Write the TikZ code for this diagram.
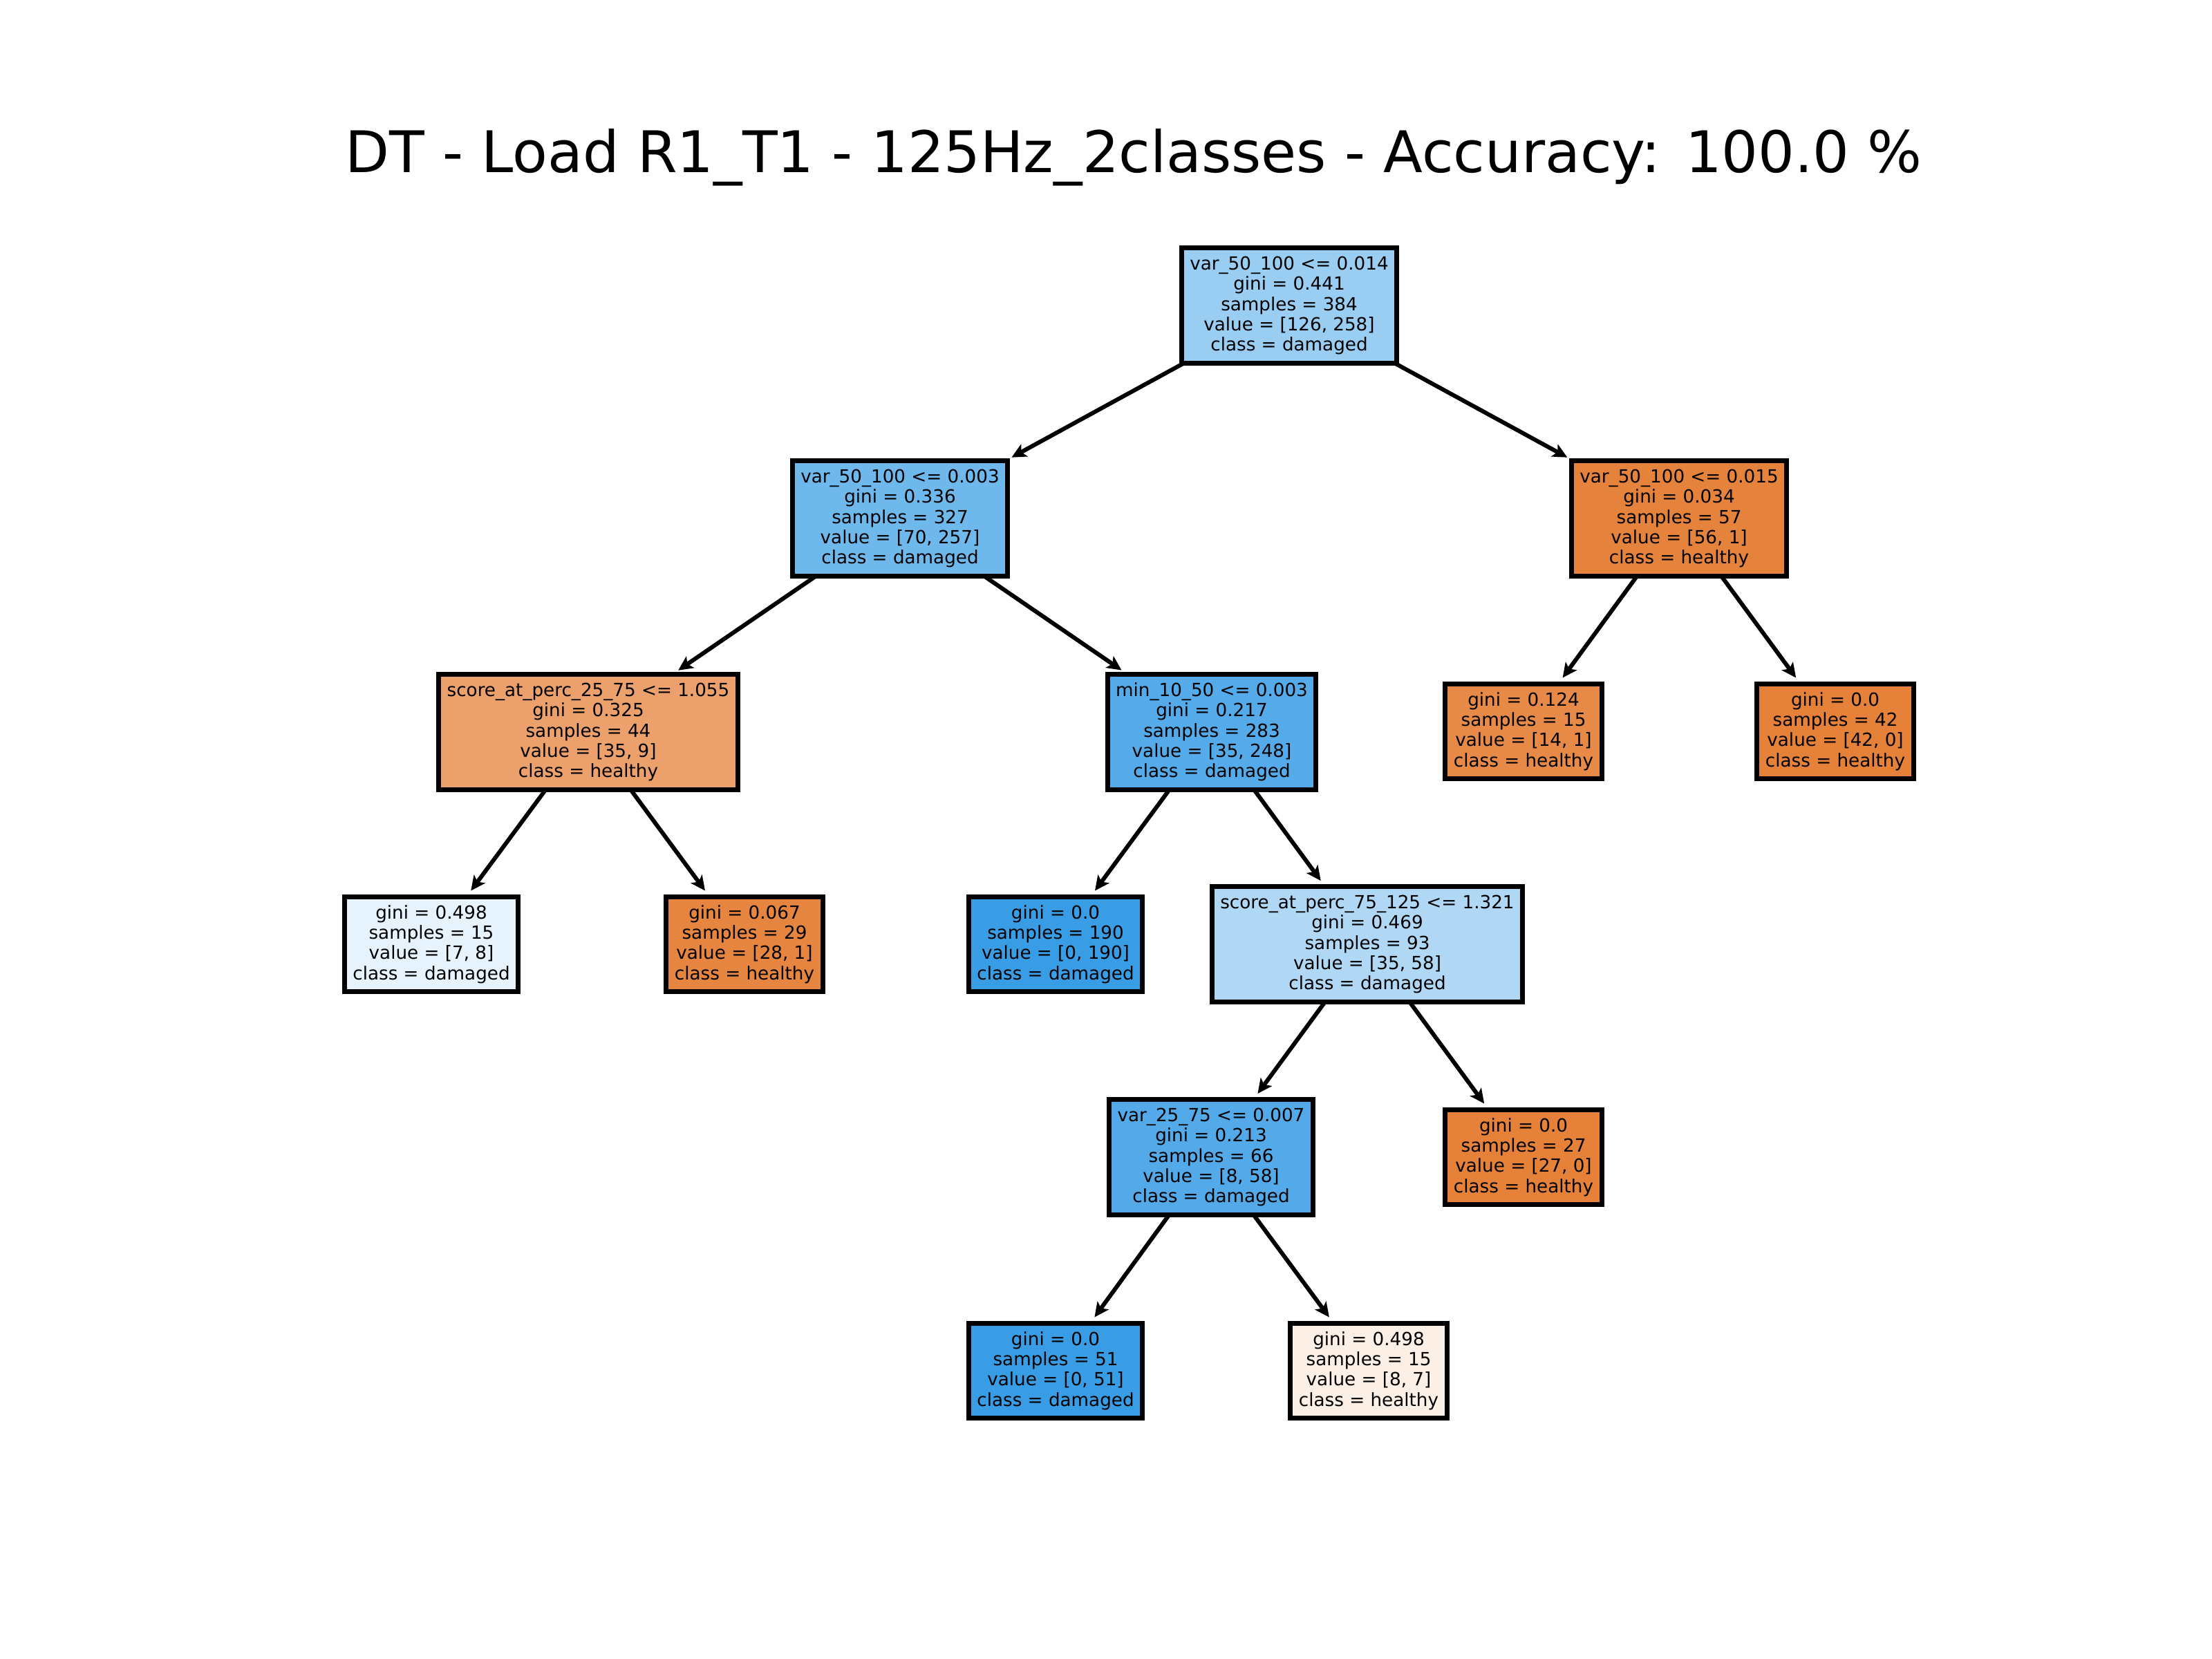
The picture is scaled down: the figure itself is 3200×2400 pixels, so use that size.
\documentclass[tikz,border=0pt]{standalone}
\usepackage{fontspec}
\setmainfont{DejaVu Sans}
\newfontfamily\dejavu{DejaVu Sans}
\usetikzlibrary{arrows.meta}
\definecolor{cRoot}{RGB}{154,205,242}
\definecolor{cNa}{RGB}{111,184,236}
\definecolor{cNb}{RGB}{229,131,61}
\definecolor{cNc}{RGB}{236,161,108}
\definecolor{cNd}{RGB}{85,171,233}
\definecolor{cNe}{RGB}{231,138,71}
\definecolor{cOr}{RGB}{229,129,57}
\definecolor{cBl}{RGB}{57,157,229}
\definecolor{cLa}{RGB}{230,243,252}
\definecolor{cLb}{RGB}{230,133,64}
\definecolor{cNg}{RGB}{176,216,245}
\definecolor{cNh}{RGB}{84,170,233}
\definecolor{cLf}{RGB}{252,239,230}
\tikzset{
  treenode/.style={draw=black, line width=0.07cm, align=center, inner xsep=0.12cm, inner ysep=0.12cm, outer sep=0pt,
    font=\dejavu\fontsize{7.45pt}{8.33pt}\selectfont, text=black},
  edge/.style={line width=0.06cm, -{Stealth[length=0.21cm,width=0.2cm,inset=0.05cm]}, shorten >=0.11cm}
}
\begin{document}
\begin{tikzpicture}[x=0.01cm,y=-0.01cm]
\useasboundingbox[fill=white] (0,0) rectangle (3200,2400);
\node[anchor=base, font=\dejavu\fontsize{23.6pt}{28pt}\selectfont] (title) at (1640,249) {DT - Load R1\_T1 - 125Hz\_2classes - Accuracy: 100.0 \%};

\node[treenode, fill=cRoot] (root) at (1865,442) {var\_50\_100 <= 0.014\\gini = 0.441\\samples = 384\\value = [126, 258]\\class = damaged};
\node[treenode, fill=cNa] (n1) at (1302,750) {var\_50\_100 <= 0.003\\gini = 0.336\\samples = 327\\value = [70, 257]\\class = damaged};
\node[treenode, fill=cNb] (n2) at (2429,750) {var\_50\_100 <= 0.015\\gini = 0.034\\samples = 57\\value = [56, 1]\\class = healthy};
\node[treenode, fill=cNc] (n3) at (851,1059) {score\_at\_perc\_25\_75 <= 1.055\\gini = 0.325\\samples = 44\\value = [35, 9]\\class = healthy};
\node[treenode, fill=cNd] (n4) at (1753,1059) {min\_10\_50 <= 0.003\\gini = 0.217\\samples = 283\\value = [35, 248]\\class = damaged};
\node[treenode, fill=cNe] (n5) at (2204,1058) {gini = 0.124\\samples = 15\\value = [14, 1]\\class = healthy};
\node[treenode, fill=cOr] (n6) at (2655,1058) {gini = 0.0\\samples = 42\\value = [42, 0]\\class = healthy};
\node[treenode, fill=cLa] (l1) at (624,1366) {gini = 0.498\\samples = 15\\value = [7, 8]\\class = damaged};
\node[treenode, fill=cLb] (l2) at (1077,1366) {gini = 0.067\\samples = 29\\value = [28, 1]\\class = healthy};
\node[treenode, fill=cBl] (l3) at (1527,1366) {gini = 0.0\\samples = 190\\value = [0, 190]\\class = damaged};
\node[treenode, fill=cNg] (n7) at (1978,1366) {score\_at\_perc\_75\_125 <= 1.321\\gini = 0.469\\samples = 93\\value = [35, 58]\\class = damaged};
\node[treenode, fill=cNh] (n8) at (1752,1674) {var\_25\_75 <= 0.007\\gini = 0.213\\samples = 66\\value = [8, 58]\\class = damaged};
\node[treenode, fill=cOr] (l4) at (2204,1674) {gini = 0.0\\samples = 27\\value = [27, 0]\\class = healthy};
\node[treenode, fill=cBl] (l5) at (1527,1983) {gini = 0.0\\samples = 51\\value = [0, 51]\\class = damaged};
\node[treenode, fill=cLf] (l6) at (1980,1983) {gini = 0.498\\samples = 15\\value = [8, 7]\\class = healthy};

\draw[edge] (root) -- (n1);
\draw[edge] (root) -- (n2);
\draw[edge] (n1) -- (n3);
\draw[edge] (n1) -- (n4);
\draw[edge] (n2) -- (n5);
\draw[edge] (n2) -- (n6);
\draw[edge] (n3) -- (l1);
\draw[edge] (n3) -- (l2);
\draw[edge] (n4) -- (l3);
\draw[edge] (n4) -- (n7);
\draw[edge] (n7) -- (n8);
\draw[edge] (n7) -- (l4);
\draw[edge] (n8) -- (l5);
\draw[edge] (n8) -- (l6);
\end{tikzpicture}
\end{document}
